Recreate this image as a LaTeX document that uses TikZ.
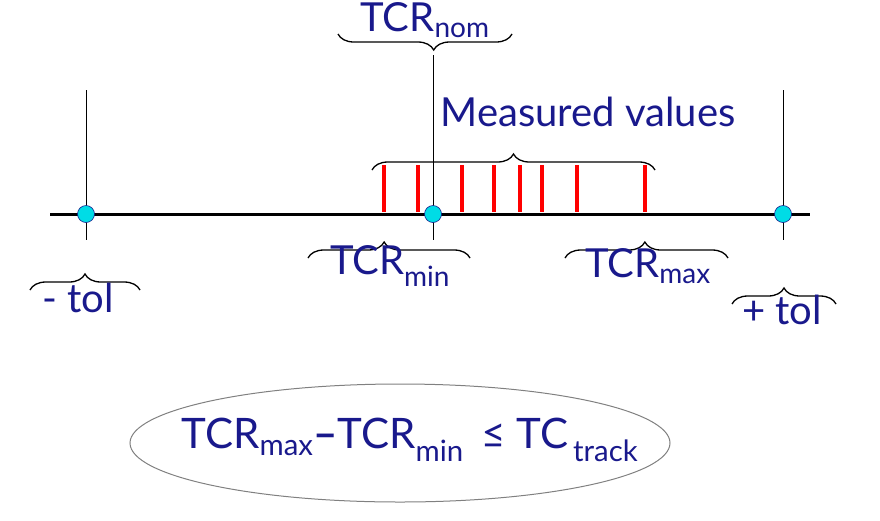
\documentclass[tikz,border=0pt]{standalone}
\usepackage{fontspec}
\setmainfont{Lato}
\usetikzlibrary{decorations.pathreplacing,shapes.geometric}
\definecolor{tblue}{RGB}{25,25,140}
\definecolor{dotc}{RGB}{0,220,230}
\begin{document}
\begin{tikzpicture}[x=1pt,y=-1pt,
  lbl/.style={text=tblue,font=\fontsize{40}{42}\selectfont,inner sep=0pt},
  br/.style={decorate,decoration={brace,amplitude=16pt},line width=1.3pt},
  tick/.style={red,line width=4pt},
  dot/.style={circle,fill=dotc,draw=tblue,line width=0.6pt,minimum size=17pt,inner sep=0pt}]
\useasboundingbox (0,0) rectangle (880,520);
\draw[line width=0.5pt] (86,90) -- (86,240) (433,55) -- (433,240) (783,90) -- (783,240);
\draw[line width=3pt] (50,214) coordinate (L) -- (810,214) coordinate (R);
\foreach \x in {384,418,462,494,520,542,577,645} \draw[tick] (\x,165) -- (\x,212);
\node[dot] (d1) at (86,214) {};
\node[dot] (d2) at (433,214) {};
\node[dot] (d3) at (783,214) {};
% braces
\draw[br,decoration={aspect=0.5}] (372,170) -- (655,170);
\node[lbl] (mv) at (588,112) {Measured values};
\draw[br,decoration={aspect=0.45}] (512,34) -- (338,34);
\node[lbl] (nom) at (425,20) {TCR\textsubscript{nom}};
\draw[br,decoration={aspect=0.47}] (308,258) -- (470,258);
\node[lbl] (tmin) at (390,266) {TCR\textsubscript{min}};
\draw[br,decoration={aspect=0.49}] (565,258) -- (728,258);
\node[lbl] (tmax) at (648,266) {TCR\textsubscript{max}};
\draw[br,decoration={aspect=0.5}] (30,290) -- (140,290);
\node[lbl] (mt) at (78,298) {- tol};
\draw[br,decoration={aspect=0.5}] (732,304) -- (836,304);
\node[lbl] (pt) at (782,310) {+ tol};
\node[draw=gray,line width=1pt,ellipse,minimum width=540pt,minimum height=118pt] (el) at (400,443) {};
\node[lbl,font=\fontsize{42}{44}\selectfont] (f) at (410,440) {TCR\textsubscript{max}\textbf{--}TCR\textsubscript{min}\, ≤ TC\textsubscript{\,track}};
\end{tikzpicture}
\end{document}
